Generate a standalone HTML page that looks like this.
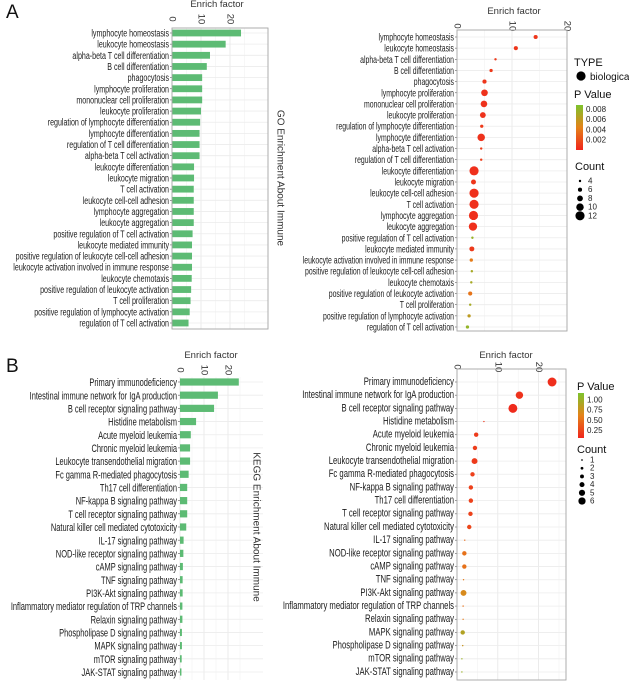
<!DOCTYPE html>
<html><head><meta charset="utf-8"><style>
html,body{margin:0;padding:0;background:#fff;}
svg{display:block;font-family:"Liberation Sans",sans-serif;}
</style></head><body>
<svg id="fig" width="629" height="681" viewBox="0 0 629 681"></svg>
<script>
// ---------- Panel A (GO) data ----------
const goTerms = ["lymphocyte homeostasis","leukocyte homeostasis","alpha-beta T cell differentiation","B cell differentiation","phagocytosis","lymphocyte proliferation","mononuclear cell proliferation","leukocyte proliferation","regulation of lymphocyte differentiation","lymphocyte differentiation","regulation of T cell differentiation","alpha-beta T cell activation","leukocyte differentiation","leukocyte migration","T cell activation","leukocyte cell-cell adhesion","lymphocyte aggregation","leukocyte aggregation","positive regulation of T cell activation","leukocyte mediated immunity","positive regulation of leukocyte cell-cell adhesion","leukocyte activation involved in immune response","leukocyte chemotaxis","positive regulation of leukocyte activation","T cell proliferation","positive regulation of lymphocyte activation","regulation of T cell activation"];
const goBarValues = [23.8,18.5,13.1,12,10.4,10.4,10.4,10,9.7,9.5,9.5,9.5,7.6,7.6,7.5,7.5,7.5,7.5,7.1,6.9,6.9,6.9,6.8,6.6,6.4,6.1,5.7];
const goDotTerms = ["lymphocyte homeostasis","leukocyte homeostasis","alpha-beta T cell differentiation","B cell differentiation","phagocytosis","lymphocyte proliferation","mononuclear cell proliferation","leukocyte proliferation","regulation of lymphocyte differentiation","lymphocyte differentiation","alpha-beta T cell activation","regulation of T cell differentiation","leukocyte differentiation","leukocyte migration","leukocyte cell-cell adhesion","T cell activation","lymphocyte aggregation","leukocyte aggregation","positive regulation of T cell activation","leukocyte mediated immunity","leukocyte activation involved in immune response","positive regulation of leukocyte cell-cell adhesion","leukocyte chemotaxis","positive regulation of leukocyte activation","T cell proliferation","positive regulation of lymphocyte activation","regulation of T cell activation"];
const goDotValues = [14.3,10.7,7.0,6.2,5.0,5.0,4.9,4.7,4.5,4.4,4.4,4.4,3.1,3.0,3.1,3.1,3.0,2.9,2.8,2.7,2.6,2.7,2.6,2.4,2.4,2.2,1.9];
const goCounts = [6,6,4,5,6,9,9,8,5,10,4,4,12,7,12,12,12,11,4,7,5,4,4,6,4,5,5];
const goPvals = [0.0008,0.0008,0.001,0.001,0.0008,0.0006,0.0006,0.0006,0.001,0.0006,0.0012,0.0012,0.0005,0.0008,0.0005,0.0005,0.0005,0.0005,0.0078,0.001,0.0042,0.0072,0.0072,0.0038,0.0072,0.0062,0.008];
const goXTicks = [0,10,20];
const goPLegend = [0.008,0.006,0.004,0.002];
const goCountLegend = [4,6,8,10,12];

// ---------- Panel B (KEGG) data ----------
const keggTerms = ["Primary immunodeficiency","Intestinal immune network for IgA production","B cell receptor signaling pathway","Histidine metabolism","Acute myeloid leukemia","Chronic myeloid leukemia","Leukocyte transendothelial migration","Fc gamma R-mediated phagocytosis","Th17 cell differentiation","NF-kappa B signaling pathway","T cell receptor signaling pathway","Natural killer cell mediated cytotoxicity","IL-17 signaling pathway","NOD-like receptor signaling pathway","cAMP signaling pathway","TNF signaling pathway","PI3K-Akt signaling pathway","Inflammatory mediator regulation of TRP channels","Relaxin signaling pathway","Phospholipase D signaling pathway","MAPK signaling pathway","mTOR signaling pathway","JAK-STAT signaling pathway"];
const keggBarValues = [24.5,15.8,14.2,6.7,4.5,4.2,4.2,3.6,3.0,3.0,3.0,2.6,1.5,1.4,1.2,1.1,1.1,1.0,1.0,0.8,0.8,0.7,0.6];
const keggDotTerms = ["Primary immunodeficiency","Intestinal immune network for IgA production","B cell receptor signaling pathway","Histidine metabolism","Acute myeloid leukemia","Chronic myeloid leukemia","Leukocyte transendothelial migration","Fc gamma R-mediated phagocytosis","NF-kappa B signaling pathway","Th17 cell differentiation","T cell receptor signaling pathway","Natural killer cell mediated cytotoxicity","IL-17 signaling pathway","NOD-like receptor signaling pathway","cAMP signaling pathway","TNF signaling pathway","PI3K-Akt signaling pathway","Inflammatory mediator regulation of TRP channels","Relaxin signaling pathway","MAPK signaling pathway","Phospholipase D signaling pathway","mTOR signaling pathway","JAK-STAT signaling pathway"];
const keggDotValues = [23.3,15.3,13.7,6.6,4.7,4.4,4.3,3.8,3.4,3.4,3.3,3.0,1.9,1.8,1.8,1.6,1.6,1.5,1.5,1.4,1.4,1.2,1.2];
const keggCounts = [6,5,6,1,3,3,4,3,3,3,3,3,1,3,3,1,4,1,1,3,1,1,1];
const keggPvals = [0.05,0.08,0.03,0.1,0.12,0.14,0.12,0.16,0.16,0.16,0.17,0.2,0.42,0.45,0.45,0.5,0.62,0.45,0.5,0.82,0.7,0.95,0.95];
const keggXTicks = [0,10,20];
const keggPLegend = [1.00,0.75,0.50,0.25];
const keggCountLegend = [1,2,3,4,5,6];

const NS = "http://www.w3.org/2000/svg";
const svg = document.getElementById('fig');
function mk(tag, attrs, parent){
  const e = document.createElementNS(NS, tag);
  for (const k in attrs) e.setAttribute(k, attrs[k]);
  (parent||svg).appendChild(e);
  return e;
}
function lerp(a,b,t){return a+(b-a)*t;}
function colorFor(t){
  t=Math.max(0,Math.min(1,t));
  const stops=[[240,38,28],[228,130,25],[125,195,45]];
  let a,b,u;
  if(t<0.5){a=stops[0];b=stops[1];u=t/0.5;}else{a=stops[1];b=stops[2];u=(t-0.5)/0.5;}
  return 'rgb('+Math.round(lerp(a[0],b[0],u))+','+Math.round(lerp(a[1],b[1],u))+','+Math.round(lerp(a[2],b[2],u))+')';
}
function label(x,y,txt,opts,name){
  const g = mk('g',{transform:'translate('+x+','+y+') scale('+(opts.sx||0.74)+',1)'});
  const t = mk('text',{x:0,y:0,'font-size':opts.fs||9.5,'text-anchor':opts.anchor||'end','dominant-baseline':'central',fill:opts.fill||'#1a1a1a'},g);
  t.textContent = txt;
  
  
  return t;
}
function rotText(x,y,txt,fs,name,anchor){
  const t = mk('text',{x:0,y:0,transform:'translate('+x+','+y+') rotate(90)','font-size':fs,'text-anchor':anchor||'middle','dominant-baseline':'central',fill:'#333'});
  t.textContent = txt;
  
  
  return t;
}

function panel(cfg){
  const {x0,x1,y0,y1,row0,rowN,terms,ticks,prefix} = cfg;
  const xs = v => x0 + (v - 0) * cfg.pxPerUnit;
  const n = terms.length;
  const ys = i => row0 + i*(rowN-row0)/(n-1);
  mk('rect',{x:x0,y:y0,width:x1-x0,height:y1-y0,fill:'#fff'});
  for(let v=5; xs(v)<x1; v+=10){ mk('line',{x1:xs(v),x2:xs(v),y1:y0,y2:y1,stroke:'#f2f2f2','stroke-width':0.6}); }
  ticks.forEach(v=>{ if(xs(v)<x1) mk('line',{x1:xs(v),x2:xs(v),y1:y0,y2:y1,stroke:'#e6e6e6','stroke-width':0.8}); });
  terms.forEach((t,i)=>{ mk('line',{x1:x0,x2:x1,y1:ys(i),y2:ys(i),stroke:'#ececec','stroke-width':0.8});
    mk('line',{x1:x0-2,x2:x0,y1:ys(i),y2:ys(i),stroke:'#555','stroke-width':0.6});
    label(x0-3, ys(i), t, {fs:cfg.fs, sx:cfg.sx}, prefix+'-label-'+i);
  });
  ticks.forEach(v=>{ rotText(xs(v), cfg.tickY, String(v), 9.5, prefix+'-tick-'+v); });
  const title = mk('text',{x:cfg.titleX,y:cfg.titleY,'font-size':9.5,'text-anchor':'middle',fill:'#333'});
  title.textContent = 'Enrich factor';
  
  
  return {xs,ys};
}
function border(x0,y0,x1,y1,name){
  const r = mk('rect',{x:x0,y:y0,width:x1-x0,height:y1-y0,fill:'none',stroke:'#a6a6a6','stroke-width':0.9});
  
  
}

[['A',18],['B',372]].forEach(([L,y])=>{
  const t = mk('text',{x:6,y:y,'font-size':19,fill:'#111'}); t.textContent=L;
  
  
});

// ---- A bar ----
(function(){
  const p = panel({x0:172,x1:268,y0:28,y1:329,row0:33,rowN:323,terms:goTerms,ticks:goXTicks,pxPerUnit:2.9,tickY:19,titleX:217,titleY:7,prefix:'go-bar',fs:10.3,sx:0.69});
  goBarValues.forEach((v,i)=>{
    const r = mk('rect',{x:172,y:p.ys(i)-3.4,width:p.xs(v)-172,height:6.8,fill:'#5dbb74'});
    
    
  });
  border(172,28,268,329,'go-bar-panel');
  rotText(280,178,'GO Enrichment About Immune',10,'go-side-title');
})();

// ---- A dot ----
(function(){
  const p = panel({x0:457,x1:567,y0:30,y1:331,row0:37,rowN:327,terms:goDotTerms,ticks:goXTicks,pxPerUnit:5.5,tickY:26,titleX:514,titleY:14,prefix:'go-dot',fs:10,sx:0.69});
  const rs = c => 0.8 + (c-3)*0.42;
  goDotValues.forEach((v,i)=>{
    const c = mk('circle',{cx:p.xs(v),cy:p.ys(i),r:rs(goCounts[i]),fill:colorFor(goPvals[i]/0.009)});
    
    
  });
  border(457,30,567,331,'go-dot-panel');
  let t = mk('text',{x:574,y:66,'font-size':11,fill:'#111'}); t.textContent='TYPE';
   
  mk('circle',{cx:581,cy:76,r:4.6,fill:'#000'});
  t = mk('text',{x:590,y:80,'font-size':10,fill:'#111'}); t.textContent='biological process';
   
  t = mk('text',{x:574,y:98,'font-size':11,fill:'#111'}); t.textContent='P Value';
   
  const defs = mk('defs',{});
  const lg = mk('linearGradient',{id:'gA',x1:0,y1:0,x2:0,y2:1},defs);
  [0,0.5,1].forEach(o=>mk('stop',{offset:o,'stop-color':colorFor(1-o)},lg));
  const bar = mk('rect',{x:576,y:105,width:7,height:45,fill:'url(#gA)'});
   
  goPLegend.forEach(v=>{ const y = 150.5 - v/0.002*10.3;
    const tt = mk('text',{x:586,y:y,'font-size':8,'dominant-baseline':'central',fill:'#222'}); tt.textContent=v.toFixed(3);
      });
  t = mk('text',{x:575,y:170,'font-size':11,fill:'#111'}); t.textContent='Count';
   
  goCountLegend.forEach((c,i)=>{ const y=181+i*8.7;
    mk('circle',{cx:580,cy:y,r:rs(c),fill:'#000'});
    const tt = mk('text',{x:588,y:y,'font-size':8,'dominant-baseline':'central',fill:'#222'}); tt.textContent=c;
      });
})();

// ---- B bar ----
(function(){
  const p = panel({x0:180,x1:263,y0:377,y1:680,row0:382,rowN:672,terms:keggTerms,ticks:keggXTicks,pxPerUnit:2.4,tickY:370,titleX:211,titleY:358,prefix:'kegg-bar',fs:11,sx:0.68});
  keggBarValues.forEach((v,i)=>{
    const r = mk('rect',{x:180,y:p.ys(i)-3.6,width:p.xs(v)-180,height:7.2,fill:'#5dbb74'});
    
    
  });
  rotText(256,527,'KEGG Enrichment About Immune',10,'kegg-side-title');
})();

// ---- B dot ----
(function(){
  const p = panel({x0:457,x1:566,y0:369,y1:680,row0:382,rowN:672,terms:keggDotTerms,ticks:keggXTicks,pxPerUnit:4.08,tickY:367,titleX:506,titleY:358,prefix:'kegg-dot',fs:11,sx:0.7});
  const rs = c => 0.7 + (c-1)*0.75;
  keggDotValues.forEach((v,i)=>{
    const c = mk('circle',{cx:p.xs(v),cy:p.ys(i),r:rs(keggCounts[i]),fill:colorFor(keggPvals[i]/1.1)});
    
    
  });
  border(457,369,566,680,'kegg-dot-panel');
  let t = mk('text',{x:577,y:390,'font-size':11,fill:'#111'}); t.textContent='P Value';
   
  const defs = mk('defs',{});
  const lg = mk('linearGradient',{id:'gB',x1:0,y1:0,x2:0,y2:1},defs);
  [0,0.5,1].forEach(o=>mk('stop',{offset:o,'stop-color':colorFor(1-o)},lg));
  const bar = mk('rect',{x:578,y:393,width:6,height:45,fill:'url(#gB)'});
   
  keggPLegend.forEach(v=>{ const y = 441 - v/0.25*10.3;
    const tt = mk('text',{x:587,y:y,'font-size':8,'dominant-baseline':'central',fill:'#222'}); tt.textContent=v.toFixed(2);
      });
  t = mk('text',{x:577,y:453,'font-size':11,fill:'#111'}); t.textContent='Count';
   
  keggCountLegend.forEach((c,i)=>{ const y=460+i*8.2;
    mk('circle',{cx:582,cy:y,r:rs(c)*0.75+0.3,fill:'#000'});
    const tt = mk('text',{x:590,y:y,'font-size':8,'dominant-baseline':'central',fill:'#222'}); tt.textContent=c;
      });
})();
</script>
</body></html>
